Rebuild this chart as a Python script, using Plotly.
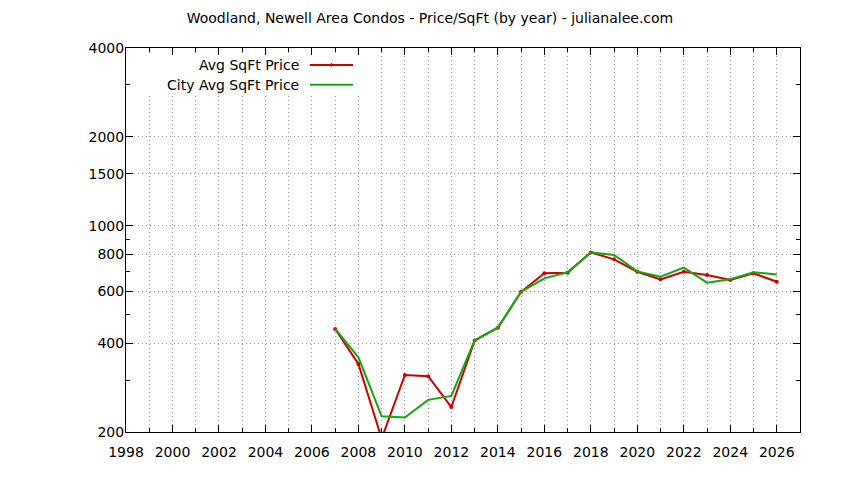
import plotly.graph_objects as go

# values
years = list(range(2007, 2027))
avg_sqft = [447, 340, 190, 312, 309, 243, 408, 451, 597, 690,
            693, 812, 769, 698, 658, 698, 681, 655, 690, 646]
city_avg_sqft = [447, 358, 226, 224, 257, 265, 409, 452, 597, 663,
                 695, 812, 796, 700, 672, 721, 641, 659, 695, 684]

y_ticks = [200, 400, 600, 800, 1000, 1500, 2000, 4000]
y_minor = [300, 500, 700, 900, 3000]

red = '#cc0000'
green = '#13a813'
font = 'DejaVu Sans'
grid_dash = '1px,3px'

fig = go.Figure()
fig.add_trace(go.Scatter(x=years, y=avg_sqft, name='Avg SqFt Price', mode='lines+markers',
                         line=dict(color=red, width=2), marker=dict(color=red, size=4)))
fig.add_trace(go.Scatter(x=years, y=city_avg_sqft, name='City Avg SqFt Price', mode='lines',
                         line=dict(color=green, width=2)))

# the page body adds an 8px offset, so margins are trimmed on the left/top
fig.update_layout(
    width=844, height=480,
    margin=dict(l=118, r=52, t=40, b=56),
    paper_bgcolor='white', plot_bgcolor='white',
    font=dict(family=font, size=14, color='black'),
    showlegend=False,
    title=dict(text='Woodland, Newell Area Condos - Price/SqFt (by year) - julianalee.com',
               x=0.5, xanchor='center', y=0.979, yanchor='middle',
               font=dict(family=font, size=14, color='black')),
)

fig.update_xaxes(range=[1998, 2027], tickmode='linear', tick0=1998, dtick=2,
                 ticks='inside', ticklen=7, tickcolor='black', tickwidth=1,
                 showline=True, linecolor='black', linewidth=1, mirror='ticks',
                 showgrid=True, gridcolor='#a0a0a0', griddash=grid_dash, gridwidth=1,
                 minor=dict(tickmode='linear', tick0=1998, dtick=1, ticks='inside', ticklen=4,
                            tickcolor='black', showgrid=True, gridcolor='#a0a0a0', griddash=grid_dash),
                 tickfont=dict(size=14), ticklabelstandoff=7, zeroline=False)

fig.update_yaxes(type='log', range=[2.30103, 3.60206], tickmode='array',
                 tickvals=y_ticks, ticktext=[str(v) for v in y_ticks],
                 ticks='inside', ticklen=7, tickcolor='black', tickwidth=1,
                 showline=True, linecolor='black', linewidth=1, mirror='ticks',
                 showgrid=True, gridcolor='#a0a0a0', griddash=grid_dash, gridwidth=1,
                 minor=dict(tickmode='array', tickvals=y_minor, ticks='inside', ticklen=4,
                            tickcolor='black', showgrid=False),
                 tickfont=dict(size=14), ticklabelstandoff=-2, zeroline=False)

# gnuplot-style key: opaque box, text right aligned, sample line to the right
fig.add_shape(type='rect', xref='paper', yref='paper', x0=0.008, x1=0.355, y0=0.878, y1=0.979,
              fillcolor='white', line=dict(width=0), layer='above')
key_rows = [('Avg SqFt Price', red, 0.956, True), ('City Avg SqFt Price', green, 0.904, False)]
for label, color, ky, dot in key_rows:
    fig.add_annotation(xref='paper', yref='paper', x=0.260, y=ky, text=label,
                       showarrow=False, xanchor='right', yanchor='middle',
                       font=dict(family=font, size=14, color='black'))
    fig.add_shape(type='line', xref='paper', yref='paper', x0=0.273, x1=0.337, y0=ky, y1=ky,
                  line=dict(color=color, width=2))
    if dot:
        fig.add_shape(type='circle', xref='paper', yref='paper',
                      x0=0.3035, x1=0.3065, y0=ky - 0.005, y1=ky + 0.005,
                      fillcolor=color, line=dict(color=color, width=0))

fig.write_html('out.html')
